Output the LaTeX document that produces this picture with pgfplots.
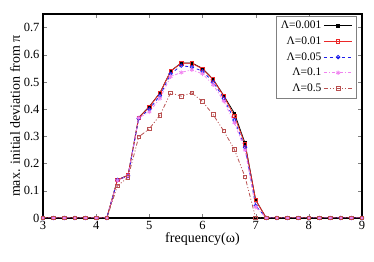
\documentclass[border=0pt]{standalone}
\usepackage{fontspec}
\setmainfont{Liberation Serif}
\usepackage{pgfplots}
\usepackage{pgfplotstable}
\pgfplotsset{compat=1.18}
\definecolor{cred}{RGB}{235,40,40}
\definecolor{cblue}{RGB}{30,30,235}
\definecolor{cmag}{RGB}{240,130,240}
\definecolor{cbrown}{RGB}{185,80,80}
\pgfplotstableread{
x a b c d e
3.0 0 0 0 0 0
3.2 0 0 0 0 0
3.4 0 0 0 0 0
3.6 0 0 0 0 0
3.8 0 0 0 0 0
4.0 0 0 0 0 0
4.2 0 0 0 0 0
4.4 0.140 0.140 0.140 0.138 0.118
4.6 0.157 0.157 0.155 0.155 0.150
4.8 0.369 0.369 0.366 0.368 0.298
5.0 0.410 0.408 0.400 0.390 0.328
5.2 0.460 0.460 0.450 0.440 0.378
5.4 0.540 0.540 0.530 0.520 0.460
5.6 0.570 0.569 0.560 0.535 0.448
5.8 0.570 0.569 0.555 0.545 0.460
6.0 0.550 0.548 0.540 0.530 0.428
6.2 0.510 0.509 0.500 0.490 0.380
6.4 0.450 0.448 0.440 0.430 0.320
6.6 0.385 0.375 0.360 0.350 0.252
6.8 0.275 0.271 0.260 0.250 0.151
7.0 0.066 0.066 0.045 0.040 0.000
7.2 0 0 0 0 0
7.4 0 0 0 0 0
7.6 0 0 0 0 0
7.8 0 0 0 0 0
8.0 0 0 0 0 0
8.2 0 0 0 0 0
8.4 0 0 0 0 0
8.6 0 0 0 0 0
8.8 0 0 0 0 0
9.0 0 0 0 0 0
}\datatable
\begin{document}
\begin{tikzpicture}
\begin{axis}[
  name=ax,
  scale only axis,
  width=319pt, height=204pt,
  xmin=3, xmax=9, ymin=0, ymax=0.75,
  xtick={3,4,5,6,7,8,9},
  ytick={0,0.1,0.2,0.3,0.4,0.5,0.6,0.7},
  yticklabel style={/pgf/number format/fixed},
  /pgf/number format/assume math mode=true,
  tick align=inside,
  major tick length=4pt,
  axis line style={line width=1.1pt},
  xlabel={frequency(ω)},
  ylabel={max. initial deviation from π},
  xlabel style={yshift=4pt},
  ylabel style={yshift=-3pt},
  tick label style={font=\fontsize{12.5}{14}\selectfont},
  label style={font=\fontsize{14}{16}\selectfont},
  legend style={at={(1,1)}, anchor=north east, xshift=-6pt, yshift=-2pt,
    draw=gray, line width=0.5pt, font=\fontsize{11.5}{13}\selectfont,
    row sep=2.5pt, inner xsep=3pt, inner ysep=3pt},
  legend cell align=right,
  legend plot pos=right,
  legend image code/.code={\draw[#1] (0cm,0cm) -- (1.0cm,0cm); \draw[#1, only marks] plot coordinates {(0.5cm,0cm)};},
]
\addplot[black, line width=0.8pt, mark=square*, mark size=1.3pt] table[x=x,y=a] {\datatable};
\addlegendentry{Λ=0.001}
\addplot[cred, line width=0.8pt, mark=square, mark size=1.7pt, mark options={solid}] table[x=x,y=b] {\datatable};
\addlegendentry{Λ=0.01}
\addplot[cblue, line width=0.8pt, dashed, mark=o, mark size=1.7pt, mark options={solid}] table[x=x,y=c] {\datatable};
\addlegendentry{Λ=0.05}
\addplot[cmag, line width=0.8pt, dash pattern=on 3pt off 2pt on 1pt off 2pt, mark=asterisk, mark size=2.2pt, mark options={solid}] table[x=x,y=d] {\datatable};
\addlegendentry{Λ=0.1}
\addplot[cbrown, line width=0.8pt, dash pattern=on 4pt off 2pt on 1pt off 2pt on 1pt off 2pt, mark=square, mark size=1.8pt, mark options={solid}] table[x=x,y=e] {\datatable};
\addlegendentry{Λ=0.5}
\end{axis}
\pgfresetboundingbox
\path ([xshift=-43pt,yshift=-44pt]ax.south west) rectangle ([xshift=12pt,yshift=14pt]ax.north east);
\end{tikzpicture}
\end{document}
